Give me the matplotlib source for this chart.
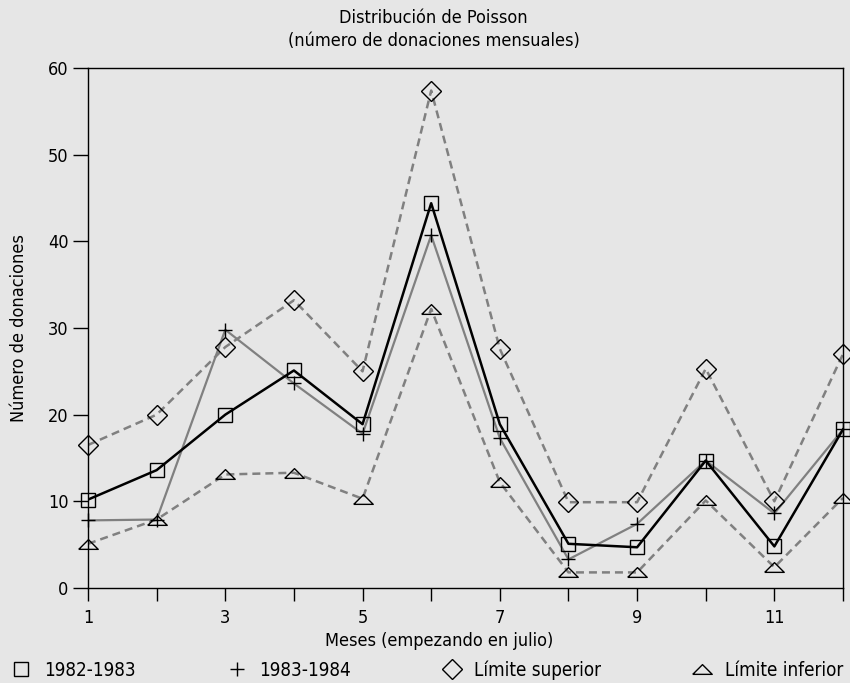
import matplotlib
matplotlib.use("Agg")
import matplotlib.pyplot as plt
from matplotlib.lines import Line2D

plt.rcParams['font.family'] = ['DejaVu Sans']
plt.rcParams['font.stretch'] = 'condensed'

months = [1, 2, 3, 4, 5, 6, 7, 8, 9, 10, 11, 12]
s_8283 = [10.2, 13.6, 20.0, 25.1, 18.9, 44.4, 18.9, 5.1, 4.7, 14.7, 4.8, 18.3]
s_8384 = [7.8, 7.9, 29.8, 23.6, 17.8, 40.7, 17.3, 3.3, 7.4, 14.7, 8.6, 18.3]
upper = [16.5, 20.0, 27.8, 33.2, 25.0, 57.4, 27.6, 9.9, 9.9, 25.3, 10.0, 27.0]
lower = [5.1, 7.9, 13.1, 13.3, 10.3, 32.2, 12.2, 1.8, 1.8, 10.1, 2.4, 10.4]

xticks = months
xticklabels = ['1', '', '3', '', '5', '', '7', '', '9', '', '11', '']
yticks = [0, 10, 20, 30, 40, 50, 60]

bg = '#e6e6e6'
gray = '#808080'
tri = [(-1, -0.5), (1, -0.5), (0, 0.5), (-1, -0.5)]

fig = plt.figure(figsize=(8.5, 6.83), dpi=100, facecolor=bg)
ax = fig.add_axes([88/850, 1-588/683, (843-88)/850, (588-68)/683])
ax.set_facecolor(bg)

dash = dict(color=gray, lw=1.8, ls=(0, (3.2, 2.0)))
mk = dict(mfc='none', mec='black', mew=1.0, clip_on=False)

ax.plot(months, upper, **dash, zorder=2)
ax.plot(months, lower, **dash, zorder=2)
ax.plot(months, s_8384, color=gray, lw=1.6, zorder=3)
ax.plot(months, s_8283, color='black', lw=1.8, zorder=4)

ax.plot(months, upper, ls='none', marker='D', ms=10, zorder=5, **mk)
ax.plot(months, lower, ls='none', marker=tri, ms=14, zorder=5, **mk)
ax.plot(months, s_8384, ls='none', marker='+', ms=10, zorder=5, **mk)
ax.plot(months, s_8283, ls='none', marker='s', ms=9.5, zorder=5, **mk)

ax.set_xlim(1, 12)
ax.set_ylim(0, 60)
ax.set_xticks(xticks)
ax.set_xticklabels(xticklabels, fontsize=13)
ax.set_yticks(yticks)
ax.set_yticklabels([str(v) for v in yticks], fontsize=13)
ax.tick_params(axis='x', direction='out', length=9, width=1, pad=6)
ax.tick_params(axis='y', direction='out', length=11, width=1, pad=3)
for s in ax.spines.values():
    s.set_linewidth(1.0)
    s.set_color('black')

ax.set_xlabel('Meses (empezando en julio)', fontsize=13)
ax.xaxis.set_label_coords((439 - 88) / 755, -0.085)
ax.set_ylabel('Número de donaciones', fontsize=13, labelpad=14)

fig.text(0.51, 1-18/683, 'Distribución de Poisson', ha='center', va='center', fontsize=13)
fig.text(0.51, 1-41/683, '(número de donaciones mensuales)', ha='center', va='center', fontsize=13)

handles = [
    Line2D([], [], ls='none', marker='s', ms=9.5, mfc='none', mec='black'),
    Line2D([], [], ls='none', marker='+', ms=10, mfc='none', mec='black'),
    Line2D([], [], ls='none', marker='D', ms=10, mfc='none', mec='black'),
    Line2D([], [], ls='none', marker=tri, ms=14, mfc='none', mec='black'),
]
labels = ['1982-1983', '1983-1984', 'Límite superior', 'Límite inferior']
fig.legend(handles, labels, loc='center', ncol=4, mode='expand',
           bbox_to_anchor=(0.012, 0.0, 0.98, 0.038), frameon=False,
           fontsize=13.5, handlelength=1.2, handletextpad=0.6, borderaxespad=0,
           borderpad=0.0)

fig.savefig('out.png', dpi=100, facecolor=bg)
